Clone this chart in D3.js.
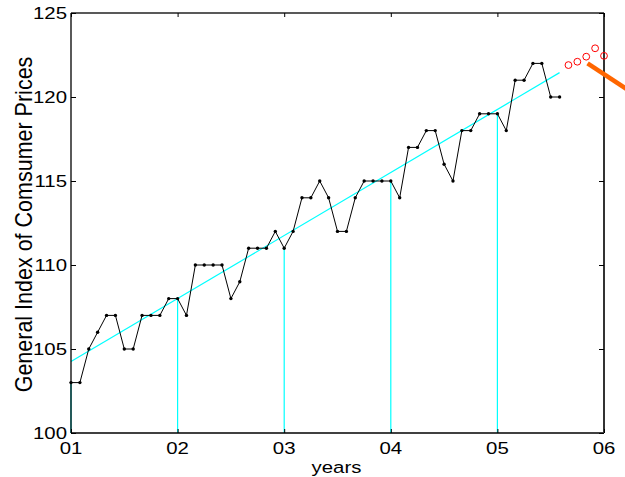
<!DOCTYPE html>
<html>
<head>
<meta charset="utf-8">
<script src="https://cdn.jsdelivr.net/npm/d3@7"></script>
<style>
  body { margin: 0; background: #fff; }
  svg text { font-family: "Liberation Sans", Arial, Helvetica, sans-serif; fill: #000; }
</style>
</head>
<body>
<div id="chart"></div>
<script>
// monthly index values, Jan 01 .. Aug 05 (month 0 = start of year 01)
var cpi = [103,103,105,106,107,107,105,105,107,107,107,108,
           108,107,110,110,110,110,108,109,111,111,111,112,
           111,112,114,114,115,114,112,112,114,115,115,115,
           115,114,117,117,118,118,116,115,118,118,119,119,
           119,118,121,121,122,122,120,120]
var yearLabels = ['01','02','03','04','05','06']
var yTicks = [100,105,110,115,120,125]
// linear trend, read at its two ends (months 0 and 55)
var trendMonths = [0, 55]
var trendValues = [104.25, 121.45]
// forecasts (red circles), months 56..60
var fcMonths = [56, 57, 58, 59, 60]
var fcValues = [121.9, 122.1, 122.4, 122.9, 122.45]
// thick orange segment
var orangeMonths = [58.15, 66]
var orangeValues = [122.0, 119.27]
// stems at the start of each year
var stemMonths = [0, 12, 24, 36, 48]

var width = 625, height = 477
var margin = {left: 71, right: 21, top: 13, bottom: 44}
var stretch = 1.2   // the text in the picture is a bit wide

var svg = d3.select('#chart').append('svg')
  .attr('width', width)
  .attr('height', height)

var x = d3.scaleLinear().domain([0, 60]).range([margin.left, width - margin.right])
var y = d3.scaleLinear().domain([100, 125]).range([height - margin.bottom, margin.top])

var x0 = x.range()[0], x1 = x.range()[1]
var y0 = y.range()[0], y1 = y.range()[1]

// stems
svg.selectAll('.stem')
  .data(stemMonths)
  .enter().append('line')
  .attr('class', 'stem')
  .attr('x1', d => x(d)).attr('x2', d => x(d))
  .attr('y1', y(100)).attr('y2', d => y(cpi[d]))
  .attr('stroke', '#00ffff')
  .attr('stroke-width', 1.2)

// trend line
svg.append('line')
  .attr('x1', x(trendMonths[0])).attr('y1', y(trendValues[0]))
  .attr('x2', x(trendMonths[1])).attr('y2', y(trendValues[1]))
  .attr('stroke', '#00ffff')
  .attr('stroke-width', 1.2)

// data line with dots
var line = d3.line().x((d, i) => x(i)).y(d => y(d))
svg.append('path')
  .attr('d', line(cpi))
  .attr('fill', 'none')
  .attr('stroke', '#000')
  .attr('stroke-width', 1)

svg.selectAll('.dot')
  .data(cpi)
  .enter().append('circle')
  .attr('class', 'dot')
  .attr('cx', (d, i) => x(i))
  .attr('cy', d => y(d))
  .attr('r', 1.7)
  .attr('fill', '#000')

// axes box
svg.append('line').attr('x1', x0).attr('x2', x1).attr('y1', y0).attr('y2', y0)
  .attr('stroke', '#000').attr('stroke-width', 1.3)
svg.append('line').attr('x1', x0).attr('x2', x1).attr('y1', y1).attr('y2', y1)
  .attr('stroke', '#222').attr('stroke-width', 1.3)
svg.append('line').attr('x1', x0).attr('x2', x0).attr('y1', y0).attr('y2', y1)
  .attr('stroke', '#000').attr('stroke-width', 1.3)
svg.append('line').attr('x1', x1).attr('x2', x1).attr('y1', y0).attr('y2', y1)
  .attr('stroke', '#333').attr('stroke-width', 2)

// tick marks, inward on all four sides
var xTickVals = d3.range(0, 61, 12)
var gxb = svg.append('g').attr('transform', 'translate(0,' + y0 + ')')
  .call(d3.axisBottom(x).tickValues(xTickVals).tickSize(-4).tickFormat(''))
var gxt = svg.append('g').attr('transform', 'translate(0,' + y1 + ')')
  .call(d3.axisTop(x).tickValues(xTickVals).tickSize(-4).tickFormat(''))
var gyl = svg.append('g').attr('transform', 'translate(' + x0 + ',0)')
  .call(d3.axisLeft(y).tickValues(yTicks).tickSize(-5).tickFormat(''))
var gyr = svg.append('g').attr('transform', 'translate(' + x1 + ',0)')
  .call(d3.axisRight(y).tickValues(yTicks).tickSize(-5).tickFormat(''))
svg.selectAll('.domain').remove()
svg.selectAll('.tick line').attr('stroke', '#000')

// tick labels (drawn by hand so they can be stretched)
svg.selectAll('.xlab')
  .data(xTickVals)
  .enter().append('text')
  .attr('class', 'xlab')
  .attr('transform', d => 'translate(' + x(d) + ',' + (y0 + 21) + ') scale(' + stretch + ',1)')
  .attr('text-anchor', 'middle')
  .style('font-size', '17px')
  .text((d, i) => yearLabels[i])

svg.selectAll('.ylab')
  .data(yTicks)
  .enter().append('text')
  .attr('class', 'ylab')
  .attr('transform', d => 'translate(' + (x0 - 4) + ',' + (y(d) + 6) + ') scale(' + stretch + ',1)')
  .attr('text-anchor', 'end')
  .style('font-size', '17px')
  .text(d => d)

// forecast circles
svg.selectAll('.fc')
  .data(fcValues)
  .enter().append('circle')
  .attr('class', 'fc')
  .attr('cx', (d, i) => x(fcMonths[i]))
  .attr('cy', d => y(d))
  .attr('r', 3.4)
  .attr('fill', 'none')
  .attr('stroke', '#ff0000')
  .attr('stroke-width', 1)

// orange segment
svg.append('line')
  .attr('x1', x(orangeMonths[0])).attr('y1', y(orangeValues[0]))
  .attr('x2', x(orangeMonths[1])).attr('y2', y(orangeValues[1]))
  .attr('stroke', '#ff6600')
  .attr('stroke-width', 4.5)

// axis labels
svg.append('text')
  .attr('transform', 'translate(336.5,473) scale(' + stretch + ',1)')
  .attr('text-anchor', 'middle')
  .style('font-size', '17px')
  .text('years')

svg.append('text')
  .attr('transform', 'translate(32,224.5) scale(1.1,1) rotate(-90)')
  .attr('text-anchor', 'middle')
  .style('font-size', '21.5px')
  .text('General Index of Comsumer Prices')
</script>
</body>
</html>
